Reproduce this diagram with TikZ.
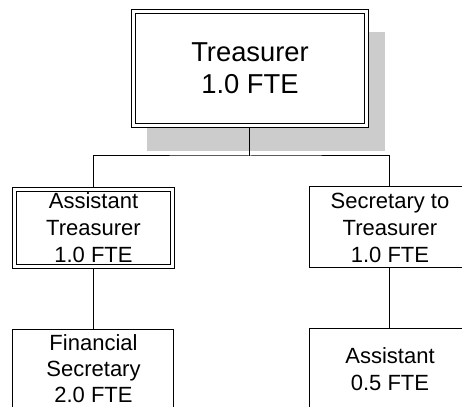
\documentclass[tikz,border=0pt]{standalone}
\usepackage{fontspec}
\setmainfont{Liberation Sans}
\usetikzlibrary{positioning, backgrounds}

\begin{document}
\begin{tikzpicture}[
    x=0.75pt, y=-0.75pt,
    node distance=45pt,
    box/.style={rectangle, draw, line width=0.75pt, fill=white, align=center,
                inner sep=0pt, outer sep=0.375pt,
                minimum width=120.75pt, minimum height=60.75pt,
                font=\fontsize{16.5}{20.25}\selectfont},
    boxdbl/.style={box, double, double distance=2.25pt, outer sep=1.875pt,
                minimum width=118.5pt, minimum height=57.75pt},
    boxtop/.style={boxdbl, minimum width=174.75pt, minimum height=85.5pt,
                font=\fontsize{20.5}{23.8}\selectfont},
    line/.style={line width=0.75pt}
]
\clip (0,0) rectangle (462,407);

% === TOP ===
\node[boxtop] (treas) at (250,68.5) {Treasurer\\1.0 FTE};

% === SECOND ROW ===
\node[boxdbl] (atreas) at (93.5,228) {Assistant\\Treasurer\\1.0 FTE};
\node[box] (sect) at (390,227.5) {Secretary to\\Treasurer\\1.0 FTE};

% === THIRD ROW ===
\node[box, below=of atreas, minimum height=59pt,
      font=\fontsize{16.5}{19.3}\selectfont] (finsec) {Financial\\Secretary\\2.0 FTE};
\node[box, below=of sect] (asst) {Assistant\\0.5 FTE};

% === SHADOW ===
\begin{scope}[on background layer]
\fill[black!20] ([shift={(16.5,23)}]treas.south west) rectangle ([shift={(16.5,23)}]treas.north east);
\end{scope}

% === LINES ===
\coordinate (bus) at (250,156);
\draw[line] (treas.south) -- (bus);
\draw[line] (atreas.north) |- (bus) -| (sect.north);
\draw[line] (atreas) -- (finsec);
\draw[line] (sect) -- (asst);

\end{tikzpicture}
\end{document}
